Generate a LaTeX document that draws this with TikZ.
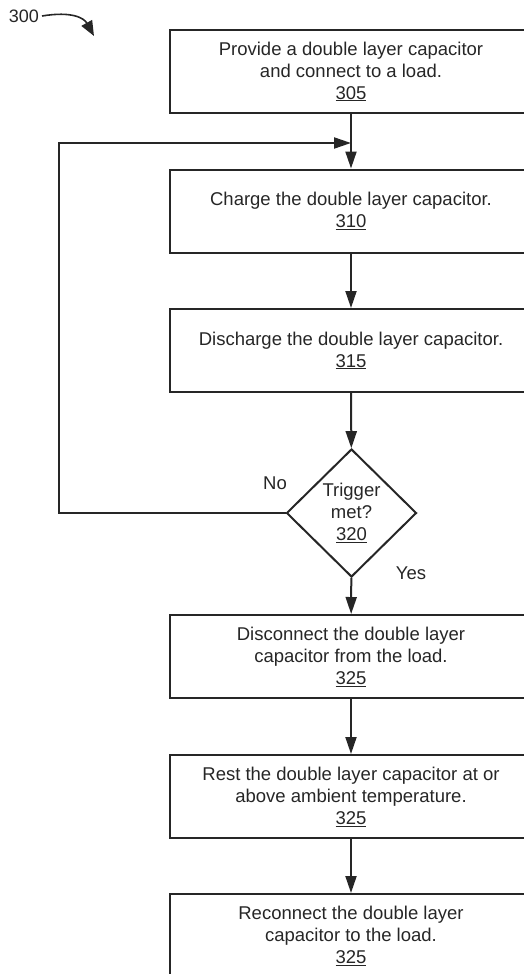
\documentclass[tikz,border=0pt]{standalone}
\usepackage{fontspec}
\setmainfont{Liberation Sans}
\usetikzlibrary{shapes.geometric, arrows.meta}

\begin{document}
\begin{tikzpicture}[x=1pt, y=1pt,
	line width=2pt, color=black!85,
	font=\fontsize{18.5}{22}\selectfont,
	stepbox/.style={draw, minimum width=362pt, minimum height=83pt,
		align=center, inner sep=0pt},
	decide/.style={draw, diamond, minimum width=130pt, minimum height=128pt,
		align=center, inner sep=0pt},
	flow/.style={-{Triangle[length=17pt, width=11pt]}}]
\useasboundingbox (0, 0) rectangle (524, -974);

\node[inner sep=2pt, font=\fontsize{18}{22}\selectfont] (ref) at (24, -16) {300};

\node[stepbox] (s305) at (351, -71.5)
	{Provide a double layer capacitor\\ and connect to a load.\\ \underline{305}};
\node[stepbox] (s310) at (351, -211)
	{Charge the double layer capacitor.\\ \underline{310}};
\node[stepbox] (s315) at (351, -350.5)
	{Discharge the double layer capacitor.\\ \underline{315}};
\node[decide] (dec) at (351.5, -513)
	{Trigger\\ met?\\ \underline{320}};
\node[stepbox] (s325a) at (351, -656.5)
	{Disconnect the double layer\\ capacitor from the load.\\ \underline{325}};
\node[stepbox] (s325b) at (351, -796.5)
	{Rest the double layer capacitor at or\\ above ambient temperature.\\ \underline{325}};
\node[stepbox] (s325c) at (351, -935.5)
	{Reconnect the double layer\\ capacitor to the load.\\ \underline{325}};

\node (lblno) at (275, -483) {No};
\node (lblyes) at (411, -573) {Yes};

\coordinate (join) at (351, -143);
\coordinate (bend) at (59, -513);

\draw[-{Triangle[length=15pt, width=12pt]}, line width=1.6pt]
	(ref.east) .. controls (72, -11) and (84, -18) .. (94, -36);

\draw[flow] (s305) -- (s310);
\draw[flow] (s310) -- (s315);
\draw[flow] (s315) -- (dec);
\draw[flow] (dec) -- (s325a);
\draw[flow] (s325a) -- (s325b);
\draw[flow] (s325b) -- (s325c);

\draw[flow] (dec.west) -- (bend) |- (join);

\end{tikzpicture}
\end{document}
